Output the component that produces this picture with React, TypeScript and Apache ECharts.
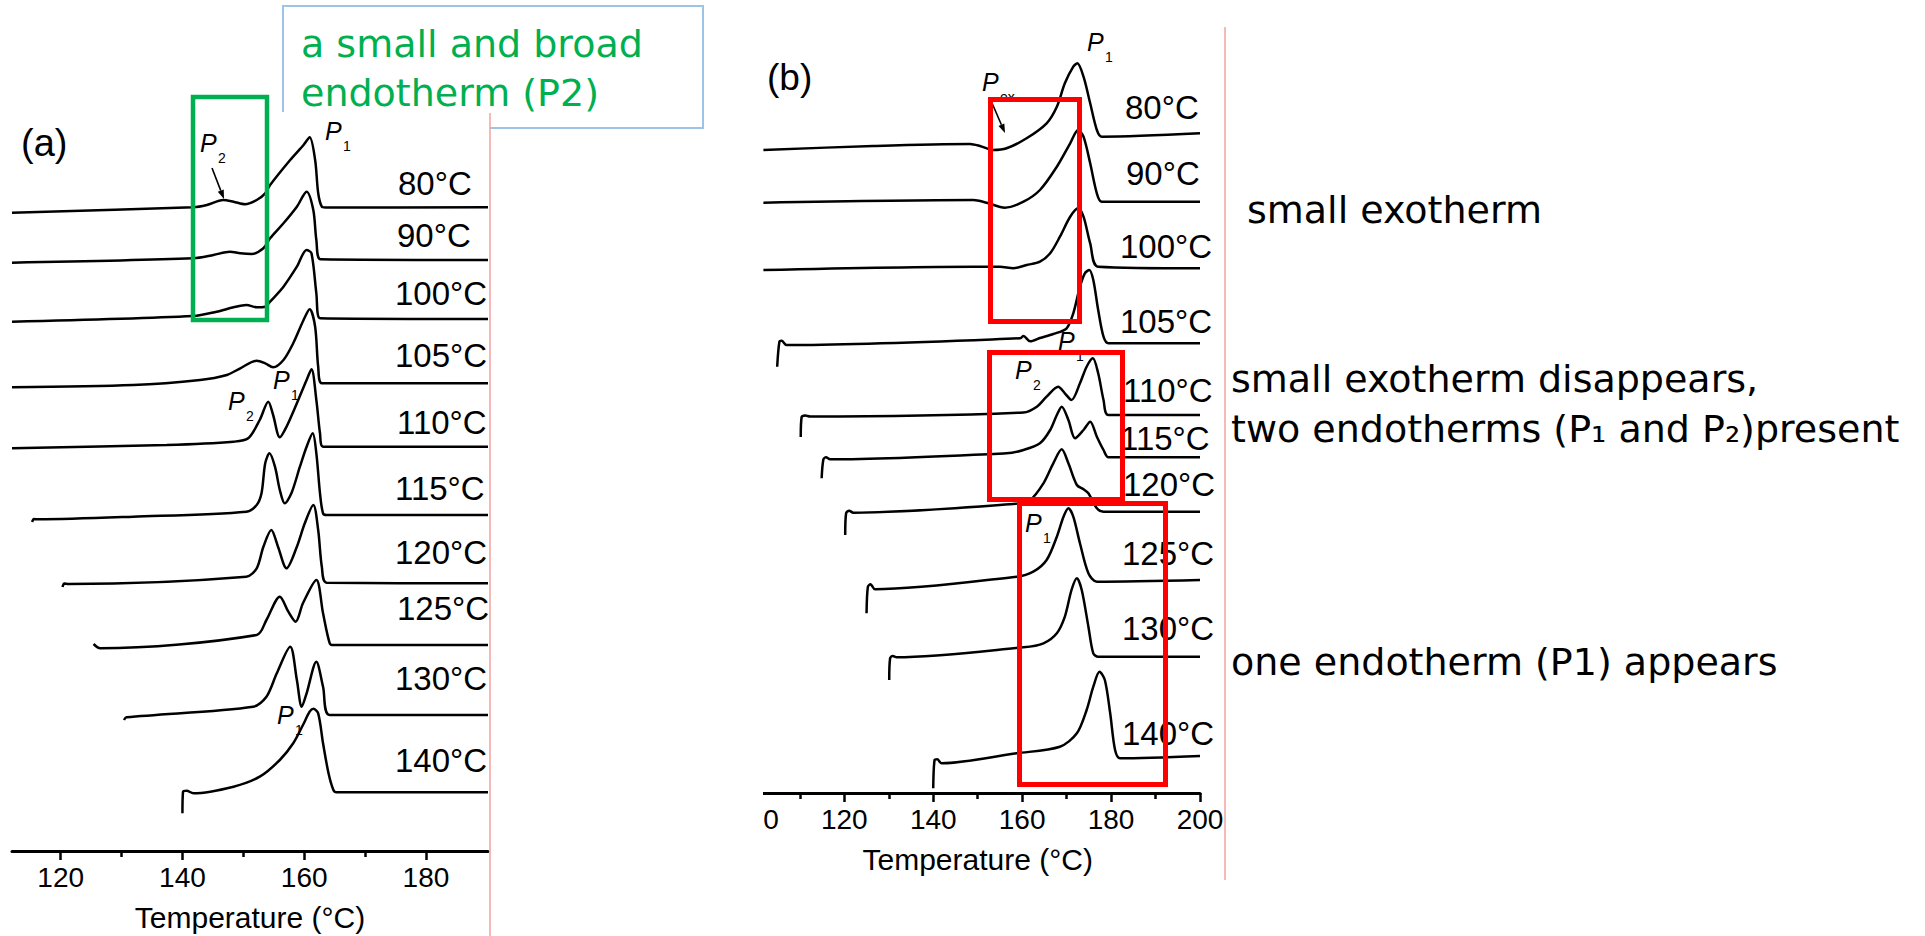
import React, { useEffect, useRef } from "react";
import * as echarts from "echarts";

// ---------------- data (temperature °C, heat-flow in arbitrary stacked units) ----------------
const tempLabels = ["80°C", "90°C", "100°C", "105°C", "110°C", "115°C", "120°C", "125°C", "130°C", "140°C"];

// panel (a)
const a80 = [[112.0,638.3],[141.8,643.7],[144.0,646],[146.7,651],[148.4,649.3],[150.3,646.7],[152.2,651],[153.6,657.7],[154.4,666],[157.7,691],[159.9,706],[160.9,713.7],[161.8,691],[162.3,658],[162.9,644.3],[163.5,643.5],[190.2,643.7]];
const a90 = [[112.0,588.3],[141.8,592.7],[145.1,596],[147.8,599.3],[149.5,597.7],[151.4,597],[153.3,602.7],[154.4,612.7],[156.6,627.7],[158.8,644.3],[160.4,659.3],[161.5,641],[162.0,611],[162.7,591.7],[190.2,591]];
const a100 = [[112.0,529.3],[141.8,535],[145.6,539.3],[148.4,543.7],[150.5,546],[152.2,543.7],[153.6,544.3],[154.4,549.3],[156.6,564.3],[158.8,584.3],[160.4,601],[161.2,597.7],[162.0,557.7],[162.6,532.7],[190.2,532]];
const a105 = [[112.0,463.7],[131.9,466],[142.9,471],[147.3,476],[149.5,482.7],[152.2,490.3],[153.6,487.7],[154.9,483.7],[156.6,491],[158.2,507.7],[159.9,531],[160.9,541.7],[161.8,524.3],[162.3,484.3],[162.9,467.7],[190.2,467.7]];
const a110 = [[112.0,402.7],[137.4,406],[148.4,409.3],[150.8,412.7],[152.7,431],[154.1,449.3],[154.9,436],[156.0,413.7],[157.1,424.3],[158.8,447.7],[160.4,471],[161.2,481.7],[162.0,451],[162.6,417.7],[163.1,404.3],[190.2,404.3]];
const a115 = [[115.3,329],[115.6,332],[116.3,331.7],[131.9,334.3],[150.5,339.3],[152.2,346],[153.0,358],[153.6,387.7],[154.3,397.7],[155.2,384.3],[156.0,361],[156.8,347.7],[157.9,357.7],[159.3,384.3],[160.4,404.3],[161.4,417.7],[162.0,397.7],[162.6,357.7],[163.1,337.7],[163.7,336],[190.2,336]];
const a120 = [[120.3,264],[120.6,267.5],[121.3,267],[150.5,274.3],[152.2,282.7],[153.3,304.3],[154.6,321],[155.7,304.3],[157.1,282.7],[158.8,304.3],[160.1,327.7],[161.5,346],[162.3,321],[162.9,284.3],[163.7,268.3],[190.2,267.7]];
const a125 = [[125.4,207],[126.5,202.7],[152.2,216],[153.8,231],[156.0,254.3],[157.4,239.3],[158.6,229.3],[159.8,247.7],[162.0,271],[163.1,237.7],[164.2,207.7],[164.8,206],[190.2,206]];
const a130 = [[130.4,131],[130.8,133.7],[151.6,144.3],[153.8,154.3],[155.5,177.7],[157.7,204.3],[158.8,171],[159.6,144.3],[160.4,157.7],[162.0,189.3],[163.1,164.3],[164.2,136],[190.2,136]];
const a140 = [[140.0,37.7],[140.1,59.3],[140.7,60.3],[141.8,57.7],[148.4,64.3],[152.7,74.3],[156.0,91],[158.2,107.7],[159.8,126],[160.9,139.3],[161.5,142.3],[162.3,137.7],[163.1,107.7],[164.0,77.7],[164.8,61],[165.3,58.7],[190.2,58.7]];

// panel (b)
const b80 = [[101.8,643],[126.5,647],[148.3,649],[150.5,647],[153.5,643],[156.5,644.7],[161.0,654.7],[165.5,669.7],[167.8,686.3],[169.6,709.7],[171.5,726.3],[172.4,729.7],[173.8,716.3],[175.3,689.7],[176.8,663],[177.9,656.3],[200.0,659.7]];
const b90 = [[101.8,590.3],[149.0,593],[152.0,590.3],[156.1,585.3],[160.3,591.3],[164.0,603],[167.8,626.3],[170.8,649.7],[172.6,663],[173.8,656.3],[175.3,629.7],[176.8,599.7],[177.9,591.3],[200.0,591.3]];
const b100 = [[101.8,523],[149.0,526.3],[155.0,526.3],[158.0,524.7],[161.0,528],[164.0,531.3],[166.3,539.7],[168.5,556.3],[170.8,576.3],[172.6,584.7],[173.8,576.3],[175.3,549.7],[177.1,526.3],[200.0,524.7]];
const b105 = [[104.9,426.3],[105.4,451.3],[105.9,452.3],[107.0,448],[159.5,454.7],[160.3,457],[161.8,451.7],[164.0,455],[167.0,459],[170.0,464.7],[171.5,479.7],[173.0,506.3],[174.1,519.7],[175.1,523],[176.0,513],[177.1,483],[178.3,456.3],[179.4,449.7],[200.0,449.7]];
const b110 = [[110.2,356],[110.4,376],[111.2,377.5],[112.3,376.5],[160.3,380.5],[163.3,386.3],[165.5,396.3],[168.1,406.3],[169.6,399.7],[171.1,393],[173.0,409.7],[174.5,426.3],[175.9,434.7],[177.1,419.7],[178.3,393],[179.4,378],[200.0,378]];
const b115 = [[114.9,314.7],[115.3,333.7],[115.9,335.7],[116.8,333.7],[156.5,339.7],[160.3,343],[164.0,349.7],[166.3,363],[167.8,378],[168.9,386.3],[170.4,373],[171.9,354.7],[173.8,363],[175.3,371.3],[176.8,356.3],[178.3,343],[179.4,335.7],[200.0,335.7]];
const b120 = [[120.2,258],[120.4,279.7],[121.1,282.3],[122.0,280.3],[158.0,289],[161.8,293],[164.8,309.7],[167.0,329.7],[168.9,343.7],[170.4,329.7],[172.3,308],[173.8,303.7],[174.9,299.7],[176.8,284.7],[178.3,281.3],[200.0,281.3]];
const b125 = [[125.0,179.7],[125.3,206.3],[125.9,208.7],[126.9,203.7],[158.8,216.3],[162.5,221.3],[165.5,233],[167.8,256.3],[169.3,276.3],[170.4,284.7],[171.5,276.3],[173.0,249.7],[174.9,219.7],[176.8,211.3],[200.0,213]];
const b130 = [[130.1,113],[130.3,134.7],[130.9,137],[131.8,135.7],[160.3,145.7],[164.8,149.7],[167.8,159.7],[169.6,176.3],[171.1,203],[172.3,214.7],[173.4,203],[174.9,166.3],[176.0,139.7],[177.1,136.3],[200.0,136.3]];
const b140 = [[140.0,4.7],[140.3,33],[140.9,33.7],[141.9,29.7],[158.8,39.7],[168.5,46.3],[172.3,59.7],[174.5,83],[176.0,106.3],[177.4,121.3],[178.6,113],[179.8,79.7],[180.9,43],[182.0,34.7],[200.0,37]];

const curvesA = [a80, a90, a100, a105, a110, a115, a120, a125, a130, a140];
const curvesB = [b80, b90, b100, b105, b110, b115, b120, b125, b130, b140];

// axis ticks
const ticksA = [120, 140, 160, 180];
const minorA = [130, 150, 170];
const ticksB = [100, 120, 140, 160, 180, 200];
const minorB = [110, 130, 150, 170, 190];
const axisTitle = "Temperature (°C)";

// ---------------- layout (pixels) ----------------
const FONT = "'Liberation Sans', Arial, sans-serif";
const SLIDE_FONT = "'DejaVu Sans', Verdana, sans-serif";
const labelXA = [398, 397, 395, 395, 397, 395, 395, 397, 395, 395];
const labelYA = [183, 235, 293, 355, 422, 488, 552, 608, 678, 760];
const labelXB = [1125, 1126, 1120, 1120, 1123, 1120, 1123, 1122, 1122, 1122];
const labelYB = [107, 173, 246, 321, 390, 438, 484, 553, 628, 733];

const text = (t: string, x: number, y: number, size: number, extra: any = {}) => ({
  type: "text",
  x,
  y,
  z: 50,
  silent: true,
  style: {
    text: t,
    fontSize: size,
    fontFamily: FONT,
    fill: "#000",
    align: "left",
    verticalAlign: "middle",
    ...extra,
  },
});

const peak = (x: number, y: number, sub: string) => [
  text("P", x, y, 25, { fontStyle: "italic", lineHeight: 20 }),
  text(sub, x + 18, y + 15, 14, { lineHeight: 12 }),
];

const arrow = (x1: number, y1: number, x2: number, y2: number) => {
  const dx = x2 - x1;
  const dy = y2 - y1;
  const len = Math.sqrt(dx * dx + dy * dy);
  const ux = dx / len;
  const uy = dy / len;
  const bx = x2 - ux * 9;
  const by = y2 - uy * 9;
  return [
    { type: "line", z: 50, silent: true, shape: { x1, y1, x2: bx, y2: by }, style: { stroke: "#000", lineWidth: 1.6 } },
    {
      type: "polygon",
      z: 50,
      silent: true,
      shape: { points: [[x2, y2], [bx - uy * 3.2, by + ux * 3.2], [bx + uy * 3.2, by - ux * 3.2]] },
      style: { fill: "#000" },
    },
  ];
};

const box = (x: number, y: number, w: number, h: number, color: string, lw: number) => ({
  type: "rect",
  z: 80,
  silent: true,
  shape: { x, y, width: w, height: h },
  style: { fill: "none", stroke: color, lineWidth: lw },
});

const slideText = (t: string, x: number, y: number, color: string) =>
  text(t, x, y, 38, { fontFamily: SLIDE_FONT, fill: color, lineHeight: 34 });

function buildOption() {
  const lineSeries = (data: number[][], xi: number, yi: number) => ({
    type: "line",
    xAxisIndex: xi,
    yAxisIndex: yi,
    data,
    showSymbol: false,
    symbol: "none",
    smooth: 0.3,
    silent: true,
    lineStyle: { color: "#000", width: 2.5 },
  });

  const majorAxis = (grid: number, min: number, max: number, ticks: number[]) => ({
    gridIndex: grid,
    type: "value",
    min,
    max,
    position: "bottom",
    axisLine: { show: true, onZero: false, lineStyle: { color: "#000", width: 3 } },
    axisTick: { show: true, length: 9, customValues: ticks, lineStyle: { color: "#000", width: 2.5 } },
    axisLabel: { show: true, customValues: ticks, fontSize: 28, fontFamily: FONT, color: "#000", margin: 12 },
    splitLine: { show: false },
    name: axisTitle,
    nameLocation: "middle",
    nameGap: 51,
    nameTextStyle: { fontSize: 30, fontFamily: FONT, color: "#000" },
  });
  const minorAxis = (grid: number, min: number, max: number, ticks: number[]) => ({
    gridIndex: grid,
    type: "value",
    min,
    max,
    position: "bottom",
    axisLine: { show: false, onZero: false },
    axisTick: { show: true, length: 6, customValues: ticks, lineStyle: { color: "#000", width: 2.5 } },
    axisLabel: { show: false },
    splitLine: { show: false },
  });

  const graphic: any[] = [];
  // light-blue call-out box (partly hidden behind panel a)
  graphic.push({
    type: "polyline",
    z: 5,
    silent: true,
    shape: { points: [[283, 112], [283, 6], [703, 6], [703, 128], [490, 128]] },
    style: { stroke: "#9DC3E6", lineWidth: 2, fill: "none" },
  });
  graphic.push(slideText("a small and broad", 301, 44, "#00B050"));
  graphic.push(slideText("endotherm (P2)", 301, 93, "#00B050"));
  // panel letters
  graphic.push(text("(a)", 21, 143, 38));
  graphic.push(text("(b)", 767, 77, 37));
  // temperature labels
  tempLabels.forEach((t, i) => {
    graphic.push(text(t, labelXA[i], labelYA[i], 33));
    graphic.push(text(t, labelXB[i], labelYB[i], 33));
  });
  // peak labels
  graphic.push(...peak(325, 131, "1"));
  graphic.push(...peak(200, 143, "2"));
  graphic.push(...peak(228, 401, "2"));
  graphic.push(...peak(273, 380, "1"));
  graphic.push(...peak(277, 715, "1"));
  graphic.push(...peak(1087, 42, "1"));
  graphic.push(...peak(982, 82, "ex"));
  graphic.push(...peak(1058, 341, "1"));
  graphic.push(...peak(1015, 370, "2"));
  graphic.push(...peak(1025, 523, "1"));
  graphic.push(...arrow(212, 168, 224, 199));
  graphic.push(...arrow(992, 103, 1005, 133));
  // highlight boxes
  graphic.push(box(193, 97, 74, 223, "#00B050", 4.5));
  graphic.push(box(990.5, 99.5, 89, 222, "#FF0000", 5));
  graphic.push(box(989.5, 352.5, 133, 147, "#FF0000", 5));
  graphic.push(box(1019.5, 503.5, 146, 281, "#FF0000", 5));
  // thin red page-crop lines
  graphic.push({ type: "line", z: 5, silent: true, shape: { x1: 490, y1: 113, x2: 490, y2: 936 }, style: { stroke: "#F4A0A0", lineWidth: 1.5 } });
  graphic.push({ type: "line", z: 5, silent: true, shape: { x1: 1225, y1: 27, x2: 1225, y2: 880 }, style: { stroke: "#F4A0A0", lineWidth: 1.5 } });
  // crop of panel (b) left edge
  graphic.push({ type: "rect", z: 90, silent: true, shape: { x: 700, y: 786, width: 63, height: 58 }, style: { fill: "#fff" } });
  // slide comments
  graphic.push(slideText("small exotherm", 1247, 210, "#000"));
  graphic.push(slideText("small exotherm disappears,", 1231, 379, "#000"));
  graphic.push(slideText("two endotherms (P\u2081 and P\u2082)present", 1231, 429, "#000"));
  graphic.push(slideText("one endotherm (P1) appears", 1231, 662, "#000"));

  return {
    animation: false,
    backgroundColor: "#fff",
    grid: [
      { left: 12, top: 100, width: 476, height: 751, outerBoundsMode: "none", containLabel: false },
      { left: 755.4, top: 20, width: 444.6, height: 773, outerBoundsMode: "none", containLabel: false },
    ],
    xAxis: [
      majorAxis(0, 112, 190.2, ticksA),
      minorAxis(0, 112, 190.2, minorA),
      majorAxis(1, 100, 200, ticksB),
      minorAxis(1, 100, 200, minorB),
    ],
    yAxis: [
      { gridIndex: 0, type: "value", min: 0, max: 751, show: false },
      { gridIndex: 1, type: "value", min: 0, max: 773, show: false },
    ],
    series: [
      ...curvesA.map((d) => lineSeries(d, 0, 0)),
      ...curvesB.map((d) => lineSeries(d, 2, 1)),
    ],
    graphic,
  };
}

export default function App() {
  const ref = useRef<HTMLDivElement>(null);
  useEffect(() => {
    if (!ref.current) return;
    const chart = echarts.init(ref.current, null, { renderer: "svg" });
    chart.setOption(buildOption() as any);
    return () => chart.dispose();
  }, []);
  return (
    <div
      ref={ref}
      style={{ position: "fixed", left: 0, top: 0, width: 1925, height: 936, background: "#fff" }}
    />
  );
}
